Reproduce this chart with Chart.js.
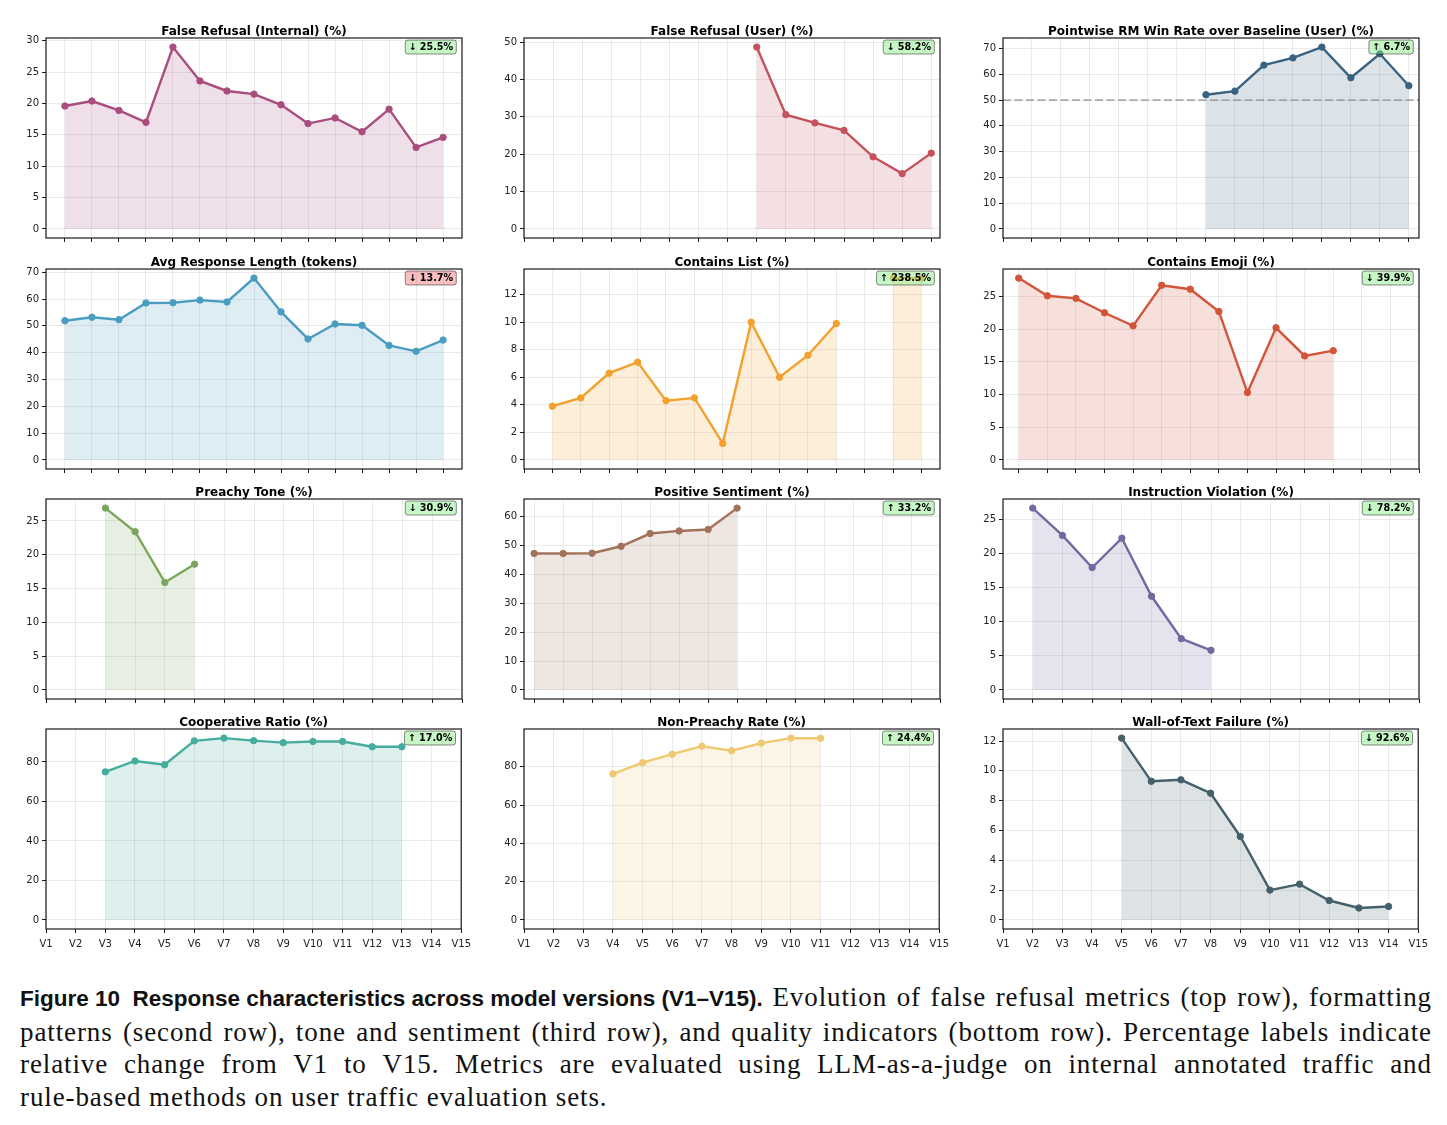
<!DOCTYPE html>
<html>
<head>
<meta charset="utf-8">
<script src="https://cdn.jsdelivr.net/npm/chart.js@4.4.1/dist/chart.umd.min.js"></script>
<style>
  html, body { margin:0; padding:0; background:#fff; }
  body { width:1447px; height:1125px; position:relative; overflow:hidden; }
  .panel { position:absolute; }
  #caption { position:absolute; left:20px; top:981px; width:1412px; color:#111;
             font-family:'Liberation Serif', serif; font-size:27px; line-height:32.5px; letter-spacing:0.9px; }
  #caption .ln { white-space:nowrap; display:flex; justify-content:space-between; }
  #caption .last { text-align:left; }
  #caption b { font-family:'Liberation Sans', sans-serif; font-weight:bold; font-size:22.5px; letter-spacing:0; }
</style>
</head>
<body>
<div id="caption"></div>
<script>
// ---------------- DATA ----------------
const versions = ['V1','V2','V3','V4','V5','V6','V7','V8','V9','V10','V11','V12','V13','V14','V15'];

const falseRefusalInternal = [19.6, 20.4, 18.9, 17.0, 29.0, 23.6, 22.0, 21.5, 19.8, 16.8, 17.7, 15.5, 19.1, 13.0, 14.6];
const falseRefusalUser     = [null, null, null, null, null, null, null, null, 48.7, 30.6, 28.4, 26.4, 19.3, 14.8, 20.3];
const rmWinRateUser        = [null, null, null, null, null, null, null, 52.1, 53.5, 63.6, 66.4, 70.6, 58.7, 68.0, 55.6];
const avgResponseLength    = [51.9, 53.2, 52.3, 58.5, 58.6, 59.6, 58.9, 67.8, 55.2, 45.1, 50.7, 50.2, 42.7, 40.5, 44.7];
const containsList         = [null, 3.9, 4.5, 6.3, 7.1, 4.3, 4.5, 1.2, 10.0, 6.0, 7.6, 9.9, null, 13.2, 13.2];
const containsEmoji        = [27.8, 25.1, 24.7, 22.5, 20.5, 26.7, 26.1, 22.7, 10.3, 20.2, 15.9, 16.7, null, null, null];
const preachyTone          = [null, null, 26.9, 23.4, 15.9, 18.6, null, null, null, null, null, null, null, null, null];
const positiveSentiment    = [47.2, 47.2, 47.3, 49.7, 54.1, 55.0, 55.5, 62.9, null, null, null, null, null, null, null];
const instructionViolation = [null, 26.6, 22.6, 17.9, 22.2, 13.7, 7.5, 5.8, null, null, null, null, null, null, null];
const cooperativeRatio     = [null, null, 75.0, 80.5, 78.6, 90.7, 92.1, 90.8, 89.8, 90.4, 90.4, 87.7, 87.7, null, null];
const nonPreachyRate       = [null, null, null, 76.3, 82.2, 86.6, 90.8, 88.4, 92.4, 95.0, 94.9, null, null, null, null];
const wallOfTextFailure    = [null, null, null, null, 12.2, 9.3, 9.4, 8.5, 5.6, 2.0, 2.4, 1.3, 0.8, 0.9, null];

const panelTitles = [
  'False Refusal (Internal) (%)', 'False Refusal (User) (%)', 'Pointwise RM Win Rate over Baseline (User) (%)',
  'Avg Response Length (tokens)', 'Contains List (%)', 'Contains Emoji (%)',
  'Preachy Tone (%)', 'Positive Sentiment (%)', 'Instruction Violation (%)',
  'Cooperative Ratio (%)', 'Non-Preachy Rate (%)', 'Wall-of-Text Failure (%)'
];
const panelSeries = [
  falseRefusalInternal, falseRefusalUser, rmWinRateUser,
  avgResponseLength, containsList, containsEmoji,
  preachyTone, positiveSentiment, instructionViolation,
  cooperativeRatio, nonPreachyRate, wallOfTextFailure
];
const badgeLabels = ['↓ 25.5%', '↓ 58.2%', '↑ 6.7%', '↓ 13.7%', '↑ 238.5%', '↓ 39.9%',
                     '↓ 30.9%', '↑ 33.2%', '↓ 78.2%', '↑ 17.0%', '↑ 24.4%', '↓ 92.6%'];
const badgeGood = [true, true, true, false, true, true, true, true, true, true, true, true];
const yTickSteps = [5, 10, 10, 10, 2, 5, 5, 10, 5, 20, 20, 2];
const referenceLines = [null, null, 50, null, null, null, null, null, null, null, null, null];

// ---------------- STYLE / LAYOUT ----------------
const lineColors = ['#a94c7e', '#c4525c', '#3a6280', '#4a9cc0', '#f4a02c', '#d2553a',
                    '#79a65c', '#a2735a', '#6f6aa0', '#45ad9e', '#f0c870', '#44606b'];
function hexA(h, a) {
  const n = parseInt(h.slice(1), 16);
  return `rgba(${(n>>16)&255},${(n>>8)&255},${n&255},${a})`;
}
const colLeft = [46, 524, 1003];
const rowTop = [38, 269, 499, 729];
const FW = 416, FH = 200;
const PADL = 50, PADT = 32, PADR = 14, PADB = 28;
const FONT = "'DejaVu Sans', sans-serif";

const panelPlugin = {
  id: 'panelDecor',
  afterDatasetsDraw(chart) {
    const o = chart.options.plugins.panelDecor;
    const {ctx, chartArea: a} = chart;
    ctx.save();
    if (o.refLine != null) {
      const y = chart.scales.y.getPixelForValue(o.refLine);
      ctx.strokeStyle = 'rgba(150,150,150,0.8)';
      ctx.lineWidth = 1.6;
      ctx.setLineDash([8, 3.5]);
      ctx.beginPath(); ctx.moveTo(a.left, y); ctx.lineTo(a.right, y); ctx.stroke();
      ctx.setLineDash([]);
    }
    ctx.restore();
  },
  afterDraw(chart) {
    const o = chart.options.plugins.panelDecor;
    const {ctx, chartArea: a} = chart;
    ctx.save();
    // frame
    ctx.strokeStyle = '#1a1a1a';
    ctx.lineWidth = 1.2;
    ctx.strokeRect(a.left, a.top, a.right - a.left, a.bottom - a.top);
    // title
    ctx.fillStyle = '#000';
    ctx.font = `bold 12px ${FONT}`;
    ctx.textAlign = 'center';
    ctx.textBaseline = 'alphabetic';
    ctx.fillText(o.title, (a.left + a.right) / 2, a.top - 3.5);
    // badge
    ctx.font = `bold 9.6px ${FONT}`;
    const tw = ctx.measureText(o.badge).width;
    const padX = 3.2, bh = 14;
    const bw = tw + 2 * padX;
    const bx = a.right - 5.7 - bw, by = a.top + 2;
    ctx.beginPath();
    ctx.roundRect(bx, by, bw, bh, 2.5);
    ctx.fillStyle = o.good ? 'rgba(144,238,144,0.5)' : 'rgba(240,128,128,0.5)';
    ctx.fill();
    ctx.strokeStyle = 'rgba(0,0,0,0.5)';
    ctx.lineWidth = 0.9;
    ctx.stroke();
    ctx.fillStyle = '#000';
    ctx.textAlign = 'left';
    ctx.textBaseline = 'middle';
    ctx.fillText(o.badge, bx + padX, by + bh / 2 + 0.5);
    ctx.restore();
  }
};

panelSeries.forEach((series, i) => {
  const row = Math.floor(i / 3), col = i % 3;
  const div = document.createElement('div');
  div.className = 'panel';
  const W = PADL + FW + PADR, H = PADT + FH + PADB;
  div.style.left = (colLeft[col] - PADL) + 'px';
  div.style.top = (rowTop[row] - PADT) + 'px';
  div.style.width = W + 'px';
  div.style.height = H + 'px';
  const cv = document.createElement('canvas');
  cv.width = W; cv.height = H;
  cv.style.width = W + 'px'; cv.style.height = H + 'px';
  div.appendChild(cv);
  document.body.appendChild(div);

  const idx = series.map((v, k) => v == null ? null : k).filter(k => k != null);
  const first = idx[0], last = idx[idx.length - 1];
  const m = 0.05 * (last - first);
  const xmin = Math.min(0, first - m), xmax = Math.max(versions.length - 1, last + m);
  const ymaxData = Math.max(...series.filter(v => v != null), referenceLines[i] || 0);
  const ymin = -0.05 * ymaxData, ymax = 1.05 * ymaxData;
  const step = yTickSteps[i];
  const color = lineColors[i];
  const bottomRow = row === 3;

  const gridCfg = {
    color: 'rgba(0,0,0,0.10)', lineWidth: 0.8, borderDash: [3, 3],
    drawTicks: true, tickLength: 4, tickColor: '#1a1a1a', tickWidth: 1, tickBorderDash: []
  };

  new Chart(cv, {
    type: 'line',
    data: {
      datasets: [{
        data: series.map((v, k) => ({x: k, y: v})),
        borderColor: color,
        backgroundColor: hexA(color, 0.18),
        fill: 'origin',
        borderWidth: 2.4,
        pointRadius: 3.2,
        pointBackgroundColor: color,
        pointBorderColor: color,
        pointBorderWidth: 1,
        tension: 0,
        spanGaps: false
      }]
    },
    options: {
      responsive: false, animation: false, devicePixelRatio: 1,
      layout: {padding: {left: 0, top: PADT, right: PADR, bottom: 0}},
      plugins: {
        legend: {display: false}, tooltip: {enabled: false}, title: {display: false},
        panelDecor: {title: panelTitles[i], badge: badgeLabels[i], good: badgeGood[i], refLine: referenceLines[i]}
      },
      scales: {
        x: {
          type: 'linear', min: xmin, max: xmax,
          afterBuildTicks: s => { s.ticks = versions.map((_, k) => ({value: k})); },
          afterFit: s => { s.height = PADB; },
          grid: gridCfg,
          border: {display: false},
          ticks: {
            autoSkip: false, maxRotation: 0, minRotation: 0, padding: 5,
            color: '#222', font: {family: FONT, size: 10},
            callback: v => bottomRow ? versions[v] : ''
          }
        },
        y: {
          type: 'linear', min: ymin, max: ymax,
          afterBuildTicks: s => {
            const t = [];
            for (let v = 0; v <= ymax + 1e-9; v += step) t.push({value: v});
            s.ticks = t;
          },
          afterFit: s => { s.width = PADL; },
          grid: gridCfg,
          border: {display: false},
          ticks: {padding: 3, color: '#222', font: {family: FONT, size: 10}, callback: v => String(v)}
        }
      }
    },
    plugins: [panelPlugin]
  });
});

// ---------------- CAPTION ----------------
const captionLines = [
  '<b>Figure 10&nbsp;&nbsp;Response characteristics across model versions (V1–V15).</b> Evolution of false refusal metrics (top row), formatting',
  'patterns (second row), tone and sentiment (third row), and quality indicators (bottom row). Percentage labels indicate',
  'relative change from V1 to V15. Metrics are evaluated using LLM-as-a-judge on internal annotated traffic and',
  'rule-based methods on user traffic evaluation sets.'
];
const cap = document.getElementById('caption');
captionLines.forEach((t, k) => {
  const d = document.createElement('div');
  if (k < captionLines.length - 1) {
    d.className = 'ln';
    const tmp = document.createElement('div');
    tmp.innerHTML = t;
    const parts = [];
    tmp.childNodes.forEach(n => {
      if (n.nodeType === 1) parts.push(n.outerHTML);
      else n.textContent.split(' ').filter(w => w.length).forEach(w => parts.push(w));
    });
    d.innerHTML = parts.map(p => `<span>${p}</span>`).join('');
  } else {
    d.className = 'last';
    d.innerHTML = t;
  }
  cap.appendChild(d);
});
</script>
</body>
</html>
